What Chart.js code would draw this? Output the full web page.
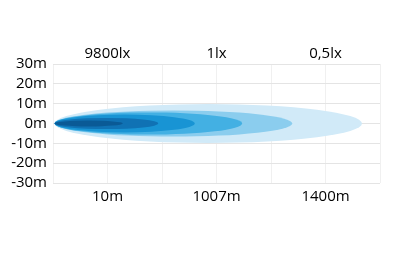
<!DOCTYPE html>
<html>
<head>
<meta charset="utf-8">
<script src="https://cdn.jsdelivr.net/npm/chart.js@4"></script>
<style>
  html, body { margin: 0; padding: 0; background: #fff; }
  #wrap { width: 400px; height: 269px; }
</style>
</head>
<body>
<div id="wrap"><canvas id="beam"></canvas></div>
<script>
// distance labels (bottom) and lux labels (top), placed on grid columns 1, 3, 5
const distanzLabels = ['10m', '1007m', '1400m'];
const luxLabels = ['9800lx', '1lx', '0,5lx'];
const labelSpalten = [1, 3, 5];
const yTicks = [-30, -20, -10, 0, 10, 20, 30];

// beam zones, innermost first: start / end (grid columns) and half width (m)
const zoneStart = [0.03, 0.03, 0.03, 0.03, 0.03, 0.03];
const zoneEnde = [1.28, 1.93, 2.6, 3.47, 4.39, 5.67];
const zoneHalbeBreite = [1.5, 2.8, 4.5, 5.6, 6.6, 9.8];
const zoneFarben = ['#0a5a96', '#1072b4', '#1894d4', '#43b0e3', '#8bcdee', '#d1eaf8'];

const ellipsenPlugin = {
  id: 'ellipsen',
  beforeDatasetsDraw(chart) {
    const ctx = chart.ctx;
    const x = chart.scales.x, y = chart.scales.y;
    ctx.save();
    for (let i = zoneEnde.length - 1; i >= 0; i--) {
      const x0 = x.getPixelForValue(zoneStart[i]);
      const x1 = x.getPixelForValue(zoneEnde[i]);
      const yc = y.getPixelForValue(0);
      const ry = Math.abs(y.getPixelForValue(zoneHalbeBreite[i]) - yc);
      ctx.beginPath();
      ctx.ellipse((x0 + x1) / 2, yc, (x1 - x0) / 2, ry, 0, 0, Math.PI * 2);
      ctx.fillStyle = zoneFarben[i];
      ctx.fill();
    }
    ctx.restore();
  }
};

const schrift = { family: 'Open Sans', size: 15 };

new Chart(document.getElementById('beam').getContext('2d'), {
  type: 'scatter',
  data: { datasets: [] },
  options: {
    responsive: true,
    maintainAspectRatio: false,
    animation: false,
    layout: { padding: { top: 34, right: 20, bottom: 56, left: 0 } },
    plugins: { legend: { display: false }, tooltip: { enabled: false } },
    scales: {
      x: {
        type: 'linear', position: 'bottom', min: 0, max: 6,
        afterFit: s => { s.height = 30; },
        afterBuildTicks: s => { s.ticks = [0, 1, 2, 3, 4, 5, 6].map(v => ({ value: v })); },
        ticks: {
          color: '#000', font: schrift, padding: 5, maxRotation: 0, autoSkip: false,
          callback: v => { const k = labelSpalten.indexOf(v); return k < 0 ? '' : distanzLabels[k]; }
        },
        grid: { color: '#f0f0f0', drawTicks: false },
        border: { display: false }
      },
      x2: {
        type: 'linear', position: 'top', min: 0, max: 6,
        afterFit: s => { s.height = 30; },
        afterBuildTicks: s => { s.ticks = labelSpalten.map(v => ({ value: v })); },
        ticks: {
          color: '#000', font: schrift, padding: 1, maxRotation: 0, autoSkip: false,
          callback: v => luxLabels[labelSpalten.indexOf(v)]
        },
        grid: { display: false, drawTicks: false },
        border: { display: false }
      },
      y: {
        min: -30, max: 30,
        afterFit: s => { s.width = 53; },
        afterBuildTicks: s => { s.ticks = yTicks.map(v => ({ value: v })); },
        ticks: { color: '#000', font: schrift, padding: 6, autoSkip: false, callback: v => v + 'm' },
        grid: { color: '#e4e4e4', drawTicks: false },
        border: { display: false }
      }
    }
  },
  plugins: [ellipsenPlugin]
});
</script>
</body>
</html>
